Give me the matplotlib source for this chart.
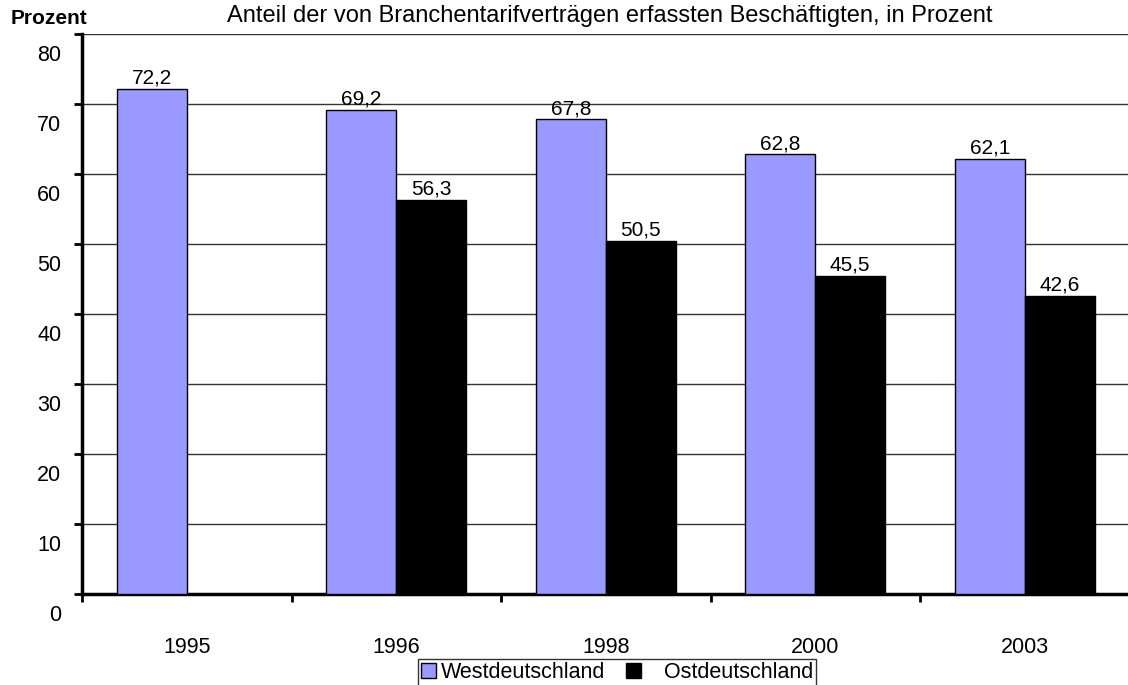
import numpy as np
import matplotlib.pyplot as plt
from matplotlib.transforms import ScaledTranslation

plt.rcParams['font.family'] = ['Liberation Sans', 'DejaVu Sans']

# Daten
jahre = ['1995', '1996', '1998', '2000', '2003']
west = [72.2, 69.2, 67.8, 62.8, 62.1]
ost = [np.nan, 56.3, 50.5, 45.5, 42.6]

W, H = 1128, 685
fig = plt.figure(figsize=(W / 100, H / 100), dpi=100)
ax = fig.add_axes([82 / W, (H - 594) / H, 1047.5 / W, 560 / H])

x = np.arange(len(jahre))
bw = 1 / 3
b1 = ax.bar(x - bw / 2, west, bw, color='#9999FF', edgecolor='black', linewidth=1,
            label='Westdeutschland', zorder=3)
b2 = ax.bar(x + bw / 2, ost, bw, color='black', edgecolor='black', linewidth=1,
            label='   Ostdeutschland', zorder=3)

fmt = lambda v: '' if np.isnan(v) else f'{v:.1f}'.replace('.', ',')
ax.bar_label(b1, labels=[fmt(v) for v in west], padding=1, fontsize=15)
ax.bar_label(b2, labels=[fmt(v) for v in ost], padding=1, fontsize=15)

ax.set_xlim(-0.5, len(jahre) - 0.5)
ax.set_ylim(0, 80)
ax.set_yticks(range(0, 81, 10))
ax.yaxis.grid(True, color='#333333', linewidth=1, zorder=0)
ax.set_axisbelow(True)

# x-Achse: Striche zwischen Kategorien, Beschriftung mittig
ax.set_xticks(np.arange(-0.5, len(jahre), 1))
ax.set_xticklabels([])
ax.set_xticks(x, minor=True)
ax.set_xticklabels(jahre, minor=True)
ax.tick_params(axis='x', which='major', length=6, width=2, direction='out')
ax.tick_params(axis='x', which='minor', length=0, pad=31, labelsize=15.5)
ax.tick_params(axis='y', length=6, width=2, direction='out', labelsize=15.5, pad=9)

for lab in ax.get_yticklabels():
    lab.set_transform(lab.get_transform() + ScaledTranslation(0, -19 / 100, fig.dpi_scale_trans))

for s in ['top', 'right']:
    ax.spines[s].set_visible(False)
ax.spines['left'].set_linewidth(2.5)
ax.spines['bottom'].set_linewidth(2.5)

fig.text(11 / W, 1 - 18 / H, 'Prozent', fontsize=15, fontweight='bold', va='center')
fig.text(610 / W, 1 - 16 / H, 'Anteil der von Branchentarifverträgen erfassten Beschäftigten, in Prozent',
         fontsize=17, ha='center', va='center')

leg = fig.legend(loc='upper center', bbox_to_anchor=(617 / W, 1 - 659 / H), ncol=2,
                 frameon=True, fancybox=False, edgecolor='black', fontsize=15.5,
                 handlelength=0.7, handleheight=0.7, handletextpad=0.2, columnspacing=1.0,
                 borderpad=0.15, borderaxespad=0)
leg.get_frame().set_linewidth(1)

fig.savefig('out.png', dpi=100)
